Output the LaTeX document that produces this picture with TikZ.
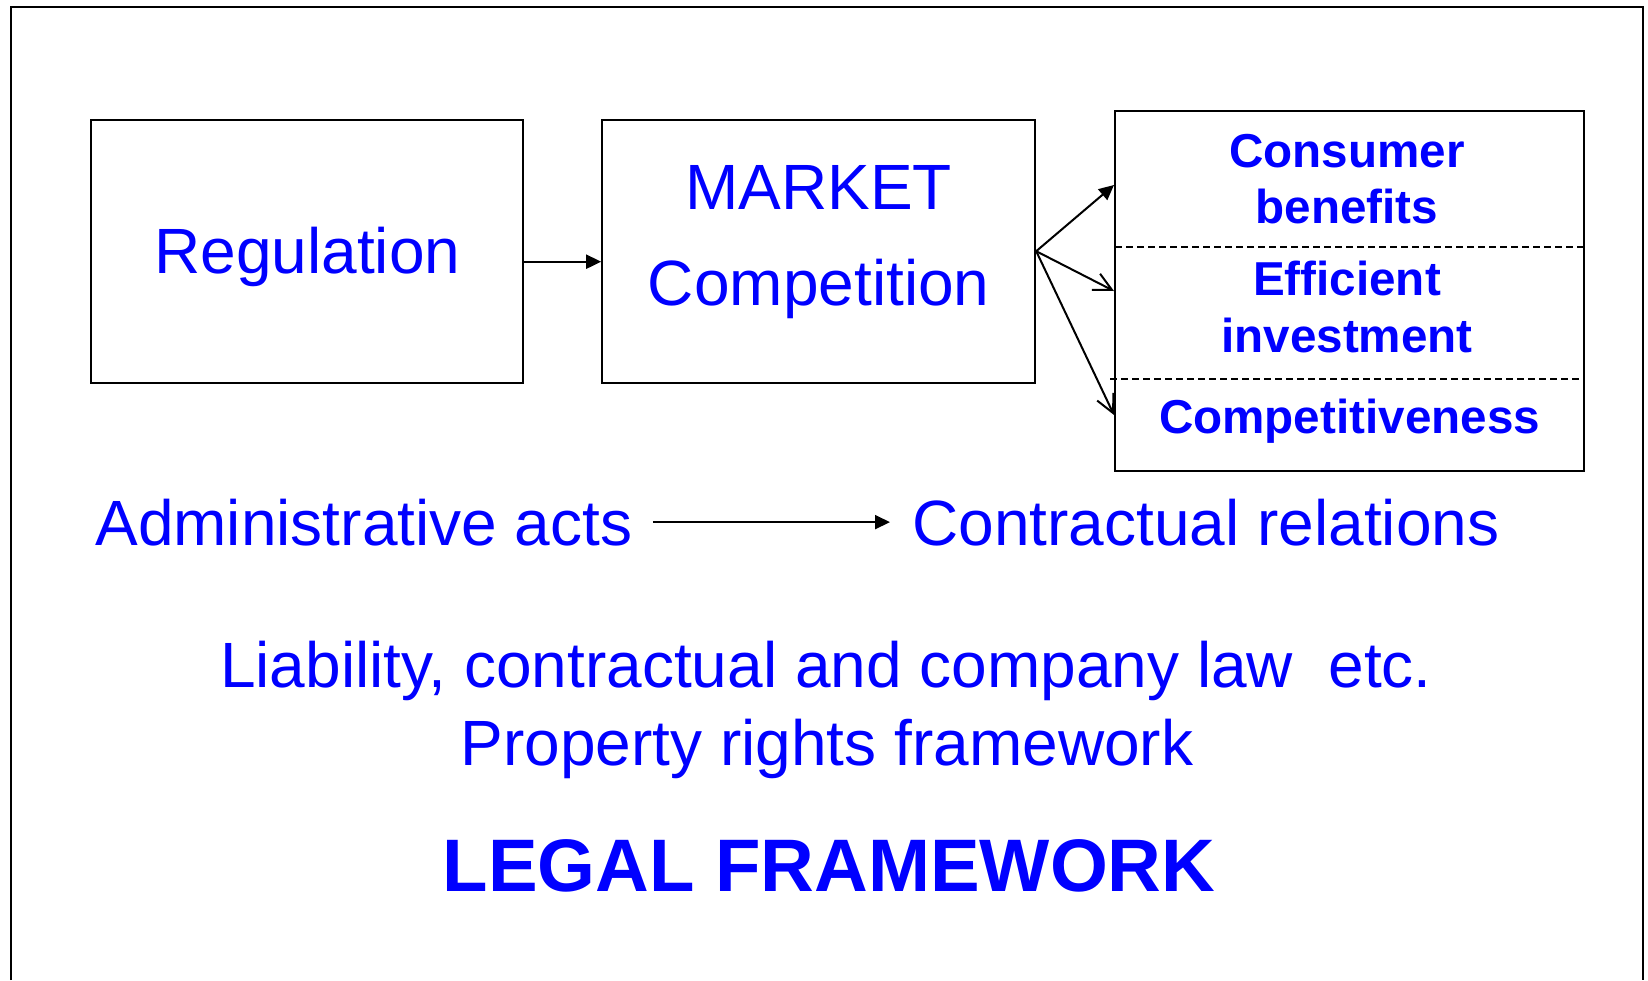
\documentclass[tikz,border=0pt]{standalone}
\usepackage{fontspec}
\setmainfont{Liberation Sans}
\usetikzlibrary{arrows.meta}
\definecolor{txtblue}{RGB}{0,0,255}
\tikzset{
	plain/.style={text=txtblue, inner sep=0pt, font=\fontsize{32}{38}\selectfont},
	boldtxt/.style={text=txtblue, inner sep=0pt, font=\fontsize{23.8}{28}\selectfont\bfseries},
	titletxt/.style={text=txtblue, inner sep=0pt, font=\fontsize{37.2}{45}\selectfont\bfseries},
	box/.style={draw, line width=1pt, inner sep=0pt},
	fillarrow/.style={line width=1pt, -{Triangle[length=7.5pt,width=7pt]}},
	openarrow/.style={line width=1pt, -{Straight Barb[length=9pt,width=9pt]}},
	divider/.style={line width=0.75pt, dash pattern=on 3.5pt off 2pt}
}
\begin{document}
\begin{tikzpicture}[x=0.5pt, y=-0.5pt]
	\useasboundingbox (0,0) rectangle (1648,980);
	%%frame
	\draw[line width=1.25pt] (11,980) -- (11,7) -- (1643,7) -- (1643,980);
	%%boxes
	\node[box, minimum width=216pt, minimum height=131.4pt] (reg) at (307.4,251.2) {};
	\node[box, minimum width=216.5pt, minimum height=131.4pt] (mkt) at (818.7,251.2) {};
	\node[box, minimum width=234.5pt, minimum height=180pt] (res) at (1349.5,291) {};
	\draw[divider] (1115,247) -- (1584,247);
	\draw[divider] (1110,379) -- (1584,379);
	%%texts in boxes
	\node[plain, anchor=base] (regtxt) at (307.4,273) {Regulation};
	\node[plain, anchor=base] (mkttop) at (818.7,209) {MARKET};
	\node[plain, anchor=base] (mktbot) at (818.7,305) {Competition};
	\node[boldtxt, anchor=base] (cons) at (1347,167) {Consumer};
	\node[boldtxt, anchor=base] (bene) at (1347,223) {benefits};
	\node[boldtxt, anchor=base] (effi) at (1347,295) {Efficient};
	\node[boldtxt, anchor=base] (inve) at (1347,352) {investment};
	\node[boldtxt, anchor=base] (comp) at (1349.5,433) {Competitiveness};
	%%arrows
	\draw[fillarrow] ([yshift=-5.25pt]reg.east) -- ([yshift=-5.25pt]mkt.west);
	\draw[fillarrow] (mkt.east) -- ([yshift=53pt]res.west);
	\draw[openarrow] (mkt.east) -- (res.west);
	\draw[openarrow] (mkt.east) -- ([yshift=-62pt]res.west);
	%%lower texts
	\node[plain, anchor=base west] (admin) at (95,545) {Administrative acts};
	\node[plain, anchor=base west] (contr) at (912,545) {Contractual relations};
	\draw[fillarrow, shorten <=10pt, shorten >=11pt] (admin.east) -- (contr.west);
	\node[plain, anchor=base] (liab) at (826,687) {Liability, contractual and company law\ \ etc.};
	\node[plain, anchor=base] (prop) at (827,765) {Property rights framework};
	\node[titletxt, anchor=base] (legal) at (829,891) {LEGAL FRAMEWORK};
\end{tikzpicture}
\end{document}
